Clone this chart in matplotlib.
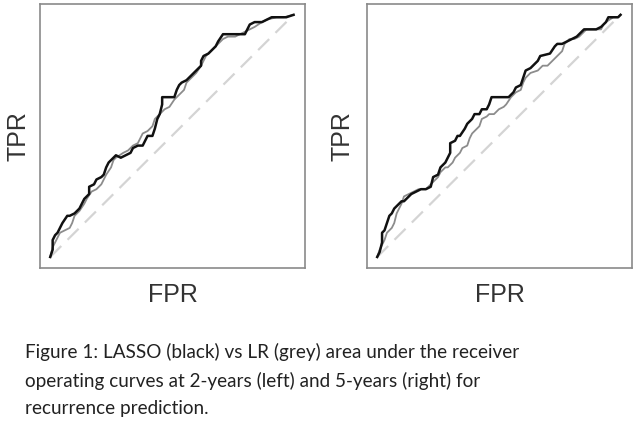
import matplotlib
matplotlib.use("Agg")
import matplotlib.pyplot as plt

# ROC curves (FPR, TPR)
# 2-year, LASSO (black)
fpr_2y_lasso = [0, 0.01, 0.01, 0.02, 0.03, 0.04, 0.05, 0.07, 0.08, 0.10, 0.12, 0.13, 0.14, 0.16, 0.16,
                0.18, 0.19, 0.21, 0.22, 0.23, 0.24, 0.26, 0.27, 0.29, 0.31, 0.33, 0.34, 0.36, 0.38, 0.40,
                0.42, 0.43, 0.44, 0.45, 0.46, 0.46, 0.48, 0.51, 0.52, 0.53, 0.54, 0.56, 0.57, 0.58, 0.60,
                0.62, 0.62, 0.63, 0.65, 0.67, 0.68, 0.69, 0.71, 0.73, 0.76, 0.78, 0.80, 0.81, 0.82, 0.84,
                0.87, 0.89, 0.91, 0.95, 0.97, 1]
tpr_2y_lasso = [0, 0.03, 0.07, 0.09, 0.10, 0.12, 0.14, 0.17, 0.17, 0.18, 0.20, 0.22, 0.24, 0.26, 0.29,
                0.30, 0.32, 0.33, 0.34, 0.37, 0.39, 0.41, 0.42, 0.41, 0.42, 0.43, 0.45, 0.46, 0.46, 0.50,
                0.50, 0.53, 0.57, 0.59, 0.63, 0.66, 0.66, 0.66, 0.69, 0.71, 0.72, 0.73, 0.74, 0.75, 0.77,
                0.79, 0.81, 0.83, 0.84, 0.86, 0.87, 0.89, 0.92, 0.92, 0.92, 0.92, 0.92, 0.94, 0.96, 0.97,
                0.97, 0.98, 0.99, 0.99, 0.99, 1]
# 2-year, LR (grey)
fpr_2y_lr = [0, 0.01, 0.03, 0.04, 0.06, 0.08, 0.09, 0.10, 0.12, 0.14, 0.15, 0.17, 0.19, 0.21, 0.22,
             0.23, 0.25, 0.26, 0.27, 0.30, 0.32, 0.34, 0.36, 0.37, 0.38, 0.40, 0.42, 0.43, 0.45, 0.47,
             0.49, 0.51, 0.53, 0.55, 0.56, 0.58, 0.60, 0.62, 0.64, 0.66, 0.68, 0.69, 0.71, 0.73, 0.76,
             0.78, 0.80, 0.82, 0.84, 0.87, 0.89, 0.93, 0.96, 1]
tpr_2y_lr = [0, 0.04, 0.08, 0.10, 0.11, 0.12, 0.14, 0.17, 0.19, 0.22, 0.24, 0.27, 0.28, 0.30, 0.32,
             0.34, 0.37, 0.40, 0.41, 0.43, 0.44, 0.46, 0.47, 0.49, 0.51, 0.52, 0.54, 0.57, 0.59, 0.61,
             0.62, 0.65, 0.67, 0.69, 0.72, 0.74, 0.76, 0.79, 0.83, 0.85, 0.87, 0.88, 0.90, 0.91, 0.91,
             0.92, 0.93, 0.94, 0.95, 0.97, 0.98, 0.99, 0.99, 1]

# 5-year, LASSO (black)
fpr_5y_lasso = [0, 0.01, 0.02, 0.02, 0.03, 0.04, 0.05, 0.06, 0.07, 0.08, 0.10, 0.11, 0.13, 0.14, 0.16,
                0.18, 0.20, 0.22, 0.23, 0.25, 0.26, 0.28, 0.29, 0.30, 0.30, 0.32, 0.33, 0.34, 0.36, 0.37,
                0.39, 0.40, 0.42, 0.43, 0.45, 0.46, 0.47, 0.49, 0.54, 0.56, 0.57, 0.59, 0.60, 0.61, 0.63,
                0.64, 0.66, 0.67, 0.71, 0.73, 0.74, 0.76, 0.78, 0.80, 0.82, 0.83, 0.85, 0.86, 0.90, 0.92,
                0.94, 0.95, 0.99, 1]
tpr_5y_lasso = [0, 0.02, 0.06, 0.10, 0.11, 0.14, 0.17, 0.18, 0.20, 0.21, 0.23, 0.23, 0.25, 0.26, 0.27,
                0.28, 0.28, 0.29, 0.33, 0.34, 0.37, 0.39, 0.41, 0.43, 0.47, 0.48, 0.50, 0.50, 0.53, 0.55,
                0.57, 0.59, 0.59, 0.61, 0.61, 0.63, 0.66, 0.66, 0.66, 0.68, 0.70, 0.71, 0.74, 0.77, 0.78,
                0.79, 0.81, 0.83, 0.84, 0.87, 0.88, 0.88, 0.89, 0.90, 0.91, 0.92, 0.94, 0.94, 0.94, 0.95,
                0.97, 0.99, 0.99, 1]
# 5-year, LR (grey)
fpr_5y_lr = [0, 0.01, 0.03, 0.04, 0.06, 0.07, 0.08, 0.10, 0.11, 0.13, 0.15, 0.17, 0.20, 0.22, 0.23,
             0.25, 0.26, 0.28, 0.29, 0.31, 0.32, 0.34, 0.35, 0.37, 0.38, 0.39, 0.41, 0.42, 0.43, 0.45,
             0.46, 0.48, 0.50, 0.52, 0.53, 0.55, 0.57, 0.59, 0.60, 0.61, 0.63, 0.66, 0.68, 0.70, 0.72,
             0.74, 0.76, 0.77, 0.79, 0.81, 0.83, 0.84, 0.86, 0.90, 0.92, 0.93, 0.94, 0.97, 0.99, 1]
tpr_5y_lr = [0, 0.03, 0.07, 0.10, 0.12, 0.14, 0.18, 0.22, 0.25, 0.26, 0.27, 0.28, 0.28, 0.30, 0.31,
             0.33, 0.35, 0.37, 0.37, 0.39, 0.41, 0.43, 0.45, 0.46, 0.49, 0.51, 0.53, 0.54, 0.57, 0.58,
             0.59, 0.59, 0.61, 0.62, 0.63, 0.66, 0.68, 0.69, 0.72, 0.74, 0.76, 0.77, 0.79, 0.79, 0.81,
             0.83, 0.85, 0.88, 0.90, 0.90, 0.91, 0.92, 0.94, 0.94, 0.94, 0.96, 0.97, 0.99, 0.99, 1]

caption = ("Figure 1: LASSO (black) vs LR (grey) area under the receiver\n"
           "operating curves at 2-years (left) and 5-years (right) for\n"
           "recurrence prediction.")

fig = plt.figure(figsize=(6.37, 4.37), dpi=100)
ax1 = fig.add_axes([0.0628, 0.387, 0.416, 0.604])
ax2 = fig.add_axes([0.5761, 0.387, 0.416, 0.604])

panels = [(ax1, fpr_2y_lasso, tpr_2y_lasso, fpr_2y_lr, tpr_2y_lr, 7),
          (ax2, fpr_5y_lasso, tpr_5y_lasso, fpr_5y_lr, tpr_5y_lr, 9)]
for ax, fx, fy, gx, gy, pad in panels:
    ax.plot([0, 1], [0, 1], color='#d4d4d4', lw=1.6, dashes=(7, 4))
    ax.plot(gx, gy, color='#8c8c8c', lw=1.3)
    ax.plot(fx, fy, color='#111111', lw=1.8)
    ax.set_xlim(-0.042, 1.047)
    ax.set_ylim(-0.045, 1.045)
    ax.set_xticks([])
    ax.set_yticks([])
    for s in ax.spines.values():
        s.set_color('#8a8a8a')
        s.set_linewidth(1.2)
    ax.set_xlabel('FPR', fontsize=18, family='Liberation Sans', color='#333333', labelpad=11)
    ax.set_ylabel('TPR', fontsize=18, family='Liberation Sans', color='#333333', labelpad=pad)

fig.text(0.039, 1 - 343 / 437, caption, fontsize=13.6, family='Lato', color='#222222',
         va='top', ha='left', linespacing=1.72)

fig.savefig('out.png', dpi=100, facecolor='white')
